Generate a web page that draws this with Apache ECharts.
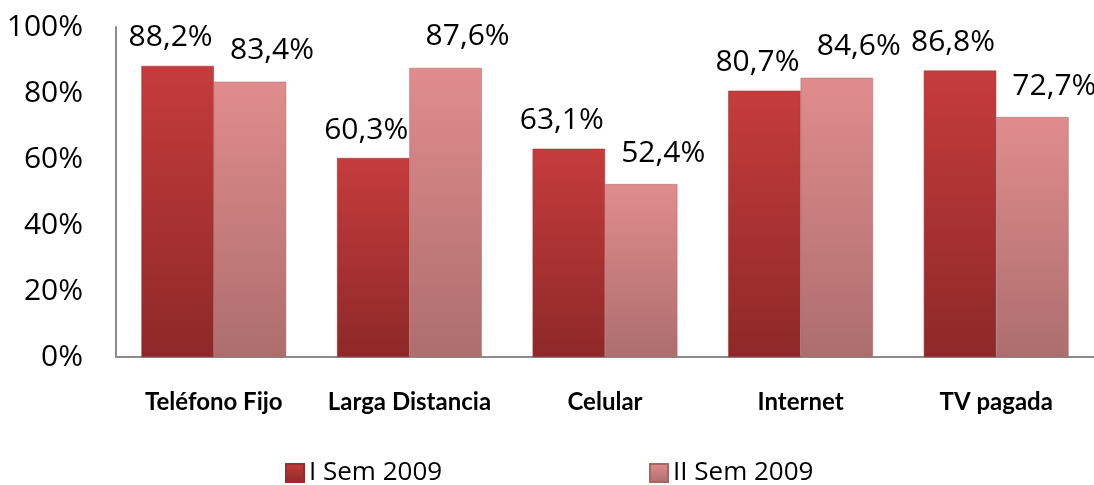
<!DOCTYPE html>
<html><head><meta charset="utf-8">
<script src="https://cdn.jsdelivr.net/npm/echarts@6/dist/echarts.min.js"></script>
<style>html,body{margin:0;padding:0;background:#fff}#c{width:1094px;height:485px}</style>
</head><body><div id="c"></div>
<script>
const categories = ['Teléfono Fijo', 'Larga Distancia', 'Celular', 'Internet', 'TV pagada'];
const seriesNames = ['I Sem 2009', 'II Sem 2009'];
const sem1 = [88.2, 60.3, 63.1, 80.7, 86.8];
const sem2 = [83.4, 87.6, 52.4, 84.6, 72.7];
const yTicks = [0, 20, 40, 60, 80, 100];

const chart = echarts.init(document.getElementById('c'));
const grad = (a, b) => new echarts.graphic.LinearGradient(0, 0, 0, 1, [{offset: 0, color: a}, {offset: 1, color: b}]);
const fmt = p => p.value.toFixed(1).replace('.', ',') + '%';
const labelBase = {show: true, position: 'top', distance: 13, fontFamily: 'Open Sans', fontSize: 30, color: '#000', formatter: fmt};
const legendText = {fontFamily: 'Open Sans', fontSize: 26, color: '#000'};
chart.setOption({
  animation: false,
  grid: {left: 116, top: 27, width: 990, height: 330},
  xAxis: {
    type: 'category', data: categories,
    axisLine: {lineStyle: {color: '#8c8c8c', width: 2}},
    axisTick: {show: false},
    axisLabel: {interval: 0, margin: 33, fontFamily: 'Lato', fontWeight: 'bold', fontSize: 24, color: '#000'}
  },
  yAxis: {
    type: 'value', min: yTicks[0], max: yTicks[yTicks.length - 1], interval: 20,
    axisLine: {show: true, lineStyle: {color: '#8c8c8c', width: 2}},
    axisTick: {show: false},
    splitLine: {show: false},
    axisLabel: {margin: 33, fontFamily: 'Open Sans', fontSize: 30, color: '#000', formatter: '{value}%'}
  },
  legend: [
    {data: [seriesNames[0]], left: 280, top: 455, icon: 'rect', itemWidth: 18, itemHeight: 18, textStyle: legendText},
    {data: [seriesNames[1]], left: 644, top: 455, icon: 'rect', itemWidth: 18, itemHeight: 18, textStyle: legendText}
  ],
  series: [
    {name: seriesNames[0], type: 'bar', data: sem1, barGap: '0%', barCategoryGap: '26%',
     itemStyle: {color: grad('#c63c3c', '#8e2828'), borderColor: '#9a2c2c', borderWidth: 0.5},
     label: Object.assign({}, labelBase, {offset: [-7, 0]})},
    {name: seriesNames[1], type: 'bar', data: sem2, barGap: '0%', barCategoryGap: '26%',
     itemStyle: {color: grad('#e18c8c', '#ad6e6e'), borderColor: '#a66666', borderWidth: 0.5},
     label: Object.assign({}, labelBase, {offset: [22, -3]})}
  ]
});
</script></body></html>
